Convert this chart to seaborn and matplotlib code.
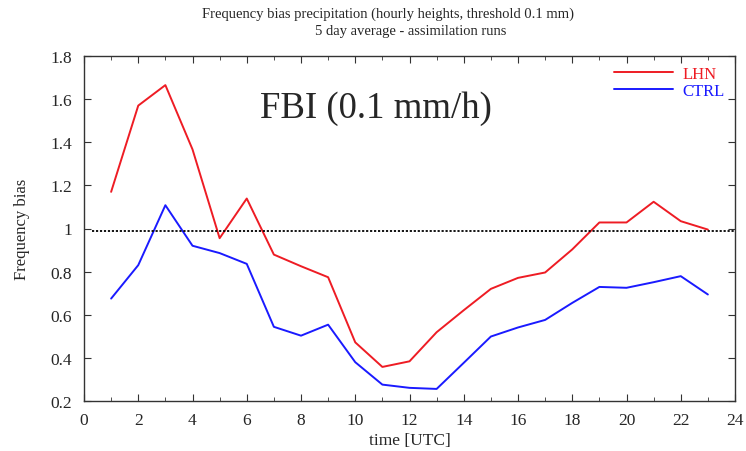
import matplotlib
matplotlib.use("Agg")
import matplotlib.pyplot as plt
import seaborn as sns
import pandas as pd
from matplotlib.ticker import MultipleLocator

hours = list(range(1, 24))
lhn = [1.17, 1.57, 1.665, 1.367, 0.955, 1.139, 0.879, 0.825, 0.774, 0.472, 0.358, 0.384,
       0.519, 0.621, 0.72, 0.771, 0.796, 0.903, 1.028, 1.028, 1.124, 1.034, 0.995]
ctrl = [0.675, 0.83, 1.108, 0.92, 0.886, 0.836, 0.544, 0.503, 0.554, 0.38, 0.276, 0.261,
        0.256, 0.377, 0.499, 0.541, 0.576, 0.655, 0.729, 0.725, 0.751, 0.779, 0.694]
series_names = ["LHN", "CTRL"]
colors = ["#ee1c24", "#1a1aff"]
ref_level = 0.988
ytick_vals = [0.2, 0.4, 0.6, 0.8, 1.0, 1.2, 1.4, 1.6, 1.8]
ytick_labels = ["0.2", "0.4", "0.6", "0.8", "1", "1.2", "1.4", "1.6", "1.8"]

df = pd.DataFrame({
    "time": hours * 2,
    "value": lhn + ctrl,
    "run": ["LHN"] * len(hours) + ["CTRL"] * len(hours),
})

sns.set_style("ticks")
plt.rcParams["font.family"] = ["Liberation Serif", "DejaVu Serif"]
plt.rcParams["xtick.direction"] = "in"
plt.rcParams["ytick.direction"] = "in"

fig = plt.figure(figsize=(7.46, 4.52), dpi=100)
ax = fig.add_axes([84/746, 1 - 402/452, (735 - 84)/746, (402 - 57)/452])

sns.lineplot(data=df, x="time", y="value", hue="run", hue_order=series_names,
             palette=dict(zip(series_names, colors)), linewidth=1.4, ax=ax)

ax.axhline(ref_level, xmin=0.012, xmax=1.0, color="black", linestyle=(0, (1.2, 1.0)), linewidth=1.3)

ax.set_xlim(0, 24)
ax.set_ylim(0.2, 1.8)
ax.xaxis.set_major_locator(MultipleLocator(2))
ax.xaxis.set_minor_locator(MultipleLocator(1))
ax.set_yticks(ytick_vals)
ax.set_yticklabels(ytick_labels)
ax.tick_params(which="both", direction="in", top=True, right=True, labelsize=12.5, color="#333333")
ax.tick_params(axis="x", which="major", pad=8)
ax.tick_params(axis="y", which="major", pad=8.5)
ax.tick_params(which="major", length=5)
ax.tick_params(which="minor", length=3)
for s in ax.spines.values():
    s.set_linewidth(1.0)
    s.set_color("#333333")

ax.set_xlabel("time [UTC]", fontsize=12.5, labelpad=3)
ax.set_ylabel("Frequency bias", fontsize=12, labelpad=15)

ax.text(6.5, 1.56, "FBI (0.1 mm/h)", fontsize=26.5, va="center", ha="left")

leg = ax.legend(loc="upper right", frameon=False, fontsize=12, handlelength=3.5,
                labelspacing=0.05, borderaxespad=0.2, labelcolor="linecolor", handletextpad=0.6)

fig.text(0.52, 1 - 18/452, "Frequency bias precipitation (hourly heights, threshold 0.1 mm)",
         ha="center", va="baseline", fontsize=10.5)
fig.text(0.551, 1 - 35/452, "5 day average - assimilation runs",
         ha="center", va="baseline", fontsize=10.5)

fig.savefig("out.png", dpi=100)
